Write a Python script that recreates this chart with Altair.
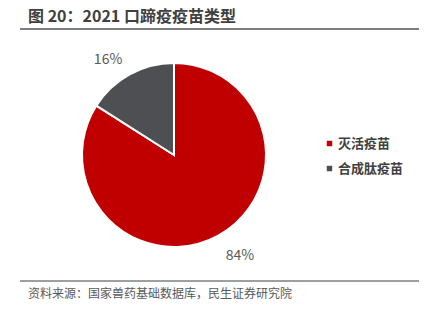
import altair as alt
import pandas as pd

categories = ["灭活疫苗", "合成肽疫苗"]
values = [84, 16]
labels = ["84%", "16%"]
colors = ["#C00000", "#4D4F53"]

title_text = "图 20：2021 口蹄疫疫苗类型"
source_text = "资料来源：国家兽药基础数据库，民生证券研究院"

df = pd.DataFrame({"cat": categories, "val": values, "lab": labels, "idx": list(range(len(categories)))})
FONT = "Noto Sans CJK SC"
cx, cy = 166, 147

base = alt.Chart(df).encode(
    theta=alt.Theta("val:Q", stack=True),
    order=alt.Order("idx:Q"),
)

pie = base.mark_arc(outerRadius=92, stroke="white", strokeWidth=2).encode(
    x=alt.value(cx), y=alt.value(cy),
    color=alt.Color("cat:N", scale=alt.Scale(domain=categories, range=colors),
                    sort=categories,
                    legend=alt.Legend(title=None, orient="none", legendX=315, legendY=129,
                                      symbolType="square", symbolSize=30, symbolStrokeWidth=0,
                                      labelFont=FONT, labelFontSize=13, labelFontWeight="bold",
                                      labelColor="#404040", rowPadding=11, labelOffset=2)),
)

txt = base.mark_text(radius=118, thetaOffset=-0.09, dy=3, font=FONT, fontSize=14, color="#595959").encode(
    x=alt.value(cx), y=alt.value(cy), text="lab:N",
)

one = alt.Data(values=[{"a": 1}])
title = alt.Chart(one).mark_text(text=title_text, font=FONT, fontSize=16, fontWeight="bold",
                                 color="#404040", align="left", baseline="middle").encode(
    x=alt.value(20), y=alt.value(9))
rule_top = alt.Chart(one).mark_rule(color="#7f7f7f", strokeWidth=2).encode(
    x=alt.value(12), x2=alt.value(419), y=alt.value(21))
rule_bot = alt.Chart(one).mark_rule(color="#7f7f7f", strokeWidth=1.5).encode(
    x=alt.value(12), x2=alt.value(419), y=alt.value(273))
source = alt.Chart(one).mark_text(text=source_text, font=FONT, fontSize=12,
                                  color="#595959", align="left", baseline="middle").encode(
    x=alt.value(20), y=alt.value(286))

chart = alt.layer(pie, txt, title, rule_top, rule_bot, source).properties(
    width=411, height=295, padding=0,
    autosize=alt.AutoSizeParams(type="none"),
).configure_view(stroke=None)

chart.save("out.html", embed_options={"renderer": "svg", "actions": False})
